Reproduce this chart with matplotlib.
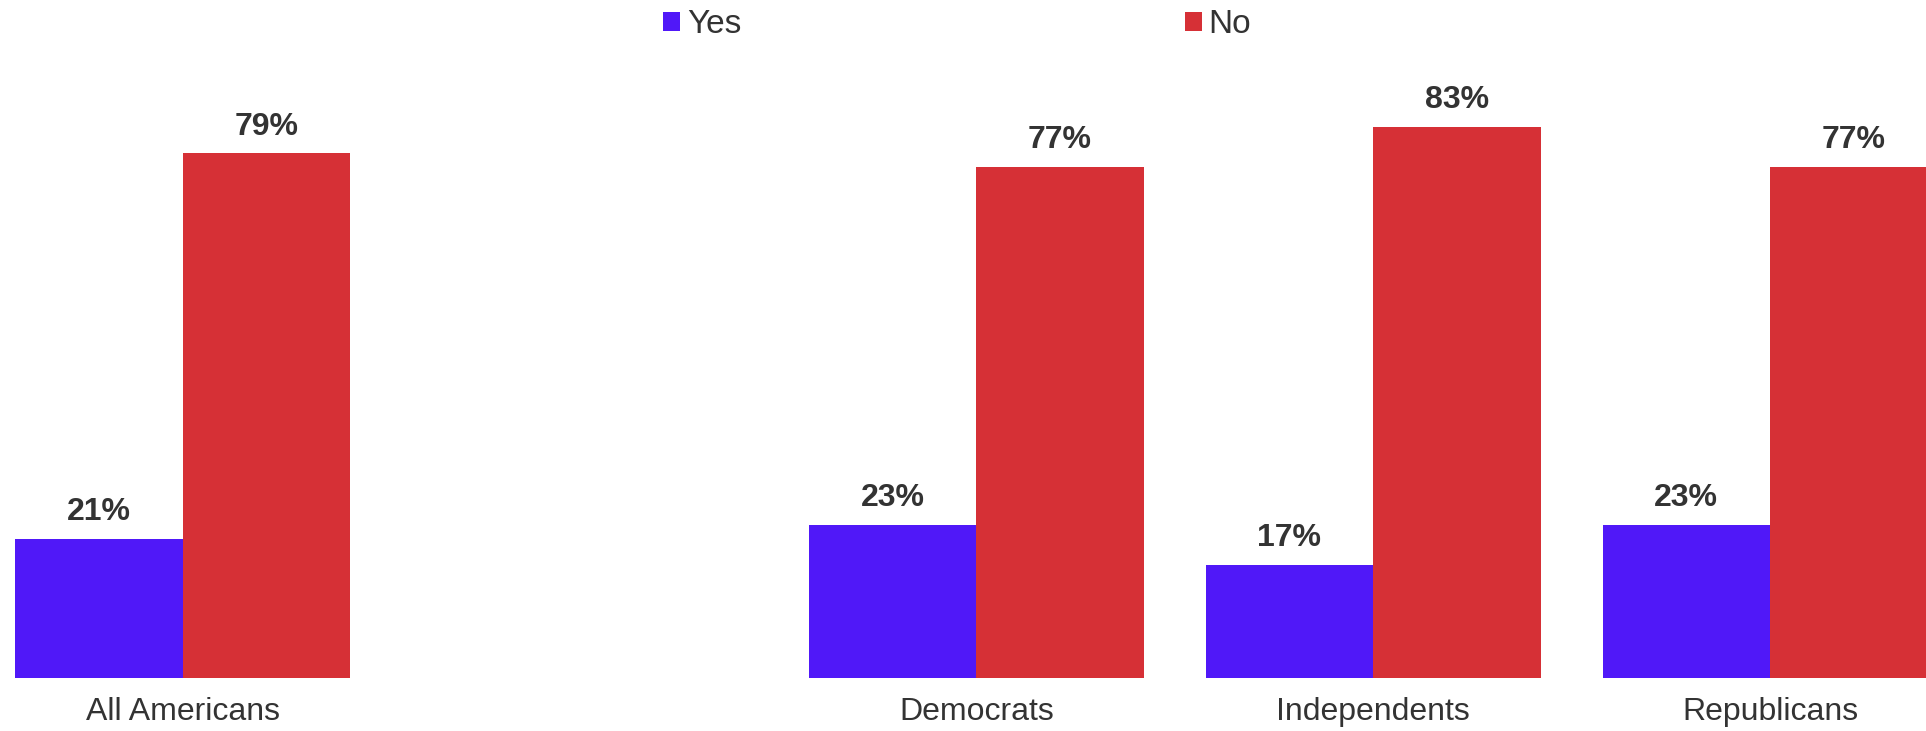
import numpy as np
import matplotlib.pyplot as plt

categories = ['All Americans', '', 'Democrats', 'Independents', 'Republicans']
yes_vals = [21, np.nan, 23, 17, 23]
no_vals = [79, np.nan, 77, 83, 77]

yes_color = '#5018F8'
no_color = '#D63036'
txt_color = '#333333'

plt.rcParams['font.family'] = ['Liberation Sans', 'DejaVu Sans']

fig = plt.figure(figsize=(19.26, 7.31), dpi=100)
ax = fig.add_axes([0, 53 / 731, 1, 678 / 731])

x = np.arange(len(categories))
w = 0.422
b1 = ax.bar(x - w / 2, yes_vals, w, color=yes_color, label='Yes')
b2 = ax.bar(x + w / 2, no_vals, w, color=no_color, label='No')

for bars, vals in ((b1, yes_vals), (b2, no_vals)):
    for r, v in zip(bars, vals):
        if np.isnan(v):
            continue
        ax.annotate(f'{v:.0f}%', (r.get_x() + r.get_width() / 2, v),
                    xytext=(0, 8.5), textcoords='offset points',
                    ha='center', va='bottom', fontsize=23, fontweight='bold',
                    color=txt_color)

ax.set_xlim(-0.46, 4.393)
ax.set_ylim(0, 102.1)
ax.set_xticks(x)
ax.set_xticklabels(categories, fontsize=23, color=txt_color)
ax.tick_params(axis='x', length=0, pad=14)
ax.set_yticks([])
for s in ax.spines.values():
    s.set_visible(False)

fig.legend(handles=[b1, b2], loc='center', bbox_to_anchor=(0.497, 0.966),
           ncol=2, frameon=False, fontsize=24, labelcolor=txt_color,
           handlelength=0.51, handleheight=0.51, handletextpad=0.2,
           columnspacing=13.3)

fig.savefig('out.png', dpi=100)
